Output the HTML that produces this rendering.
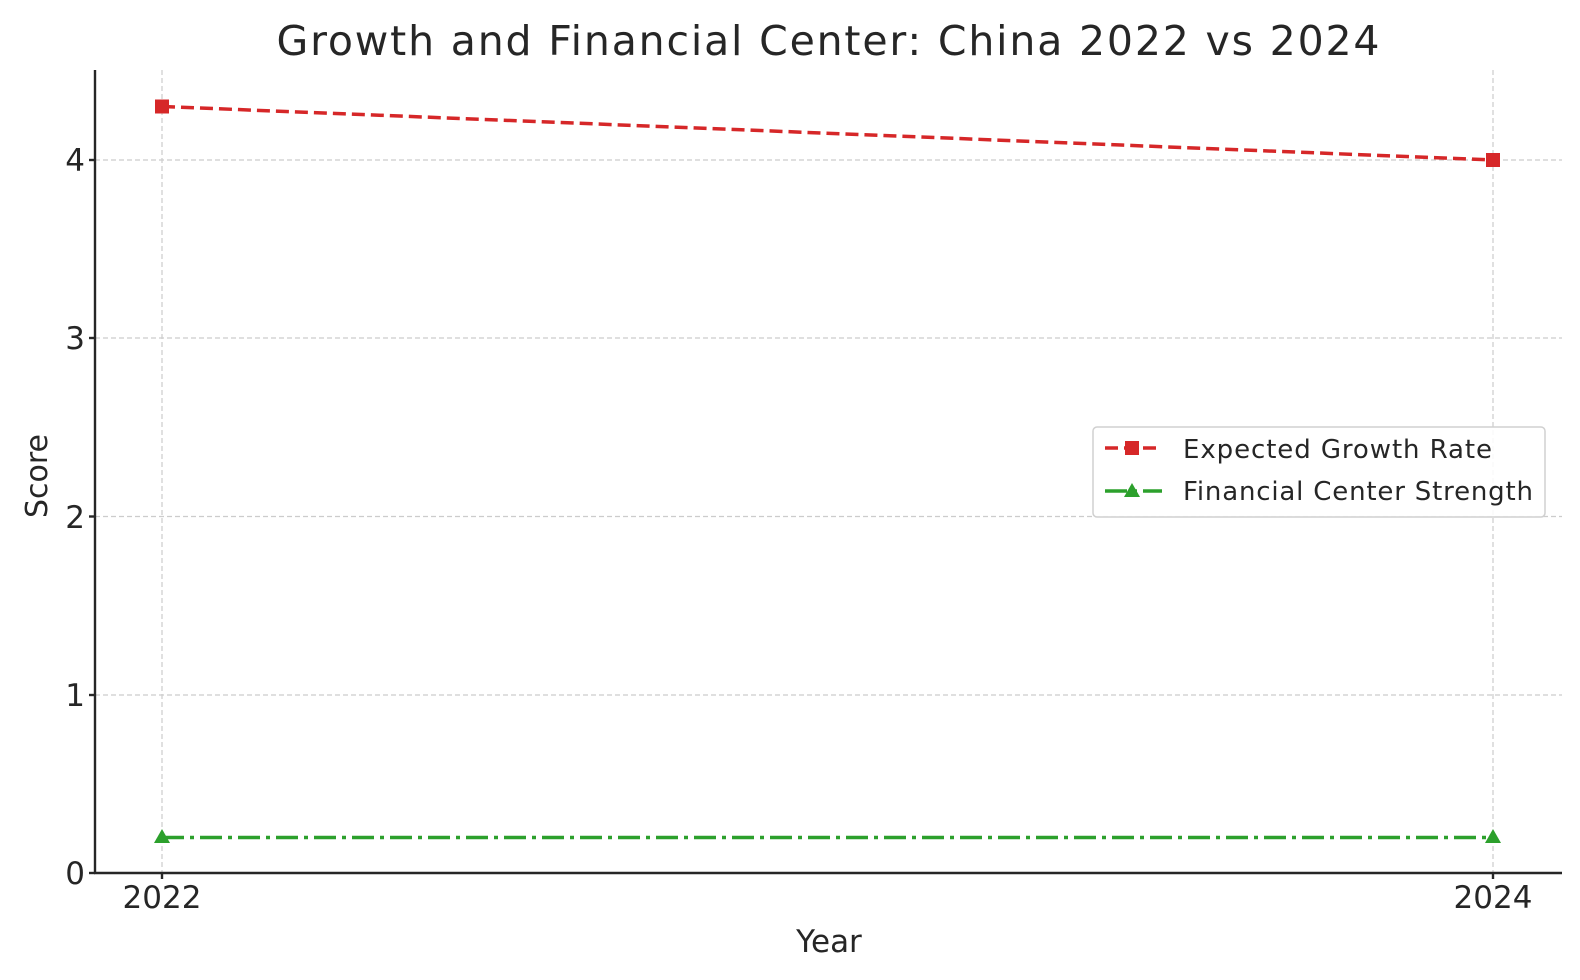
<!DOCTYPE html>
<html><head><meta charset="utf-8"><style>body{margin:0;background:#fff}svg{display:block}text{font-family:"DejaVu Sans","Liberation Sans",sans-serif;fill:#262626}</style></head>
<body>
<svg width="1580" height="980" viewBox="0 0 1580 980" xmlns="http://www.w3.org/2000/svg">
<rect width="1580" height="980" fill="#fff"/>
<g stroke="#cccccc" stroke-width="1.2" stroke-dasharray="5,3">
<line x1="95" y1="160" x2="1562" y2="160"/>
<line x1="95" y1="338" x2="1562" y2="338"/>
<line x1="95" y1="516.5" x2="1562" y2="516.5"/>
<line x1="95" y1="695" x2="1562" y2="695"/>
<line x1="162" y1="70" x2="162" y2="873"/>
<line x1="1493" y1="70" x2="1493" y2="873"/>
</g>
<g stroke="#262626" stroke-width="2.4">
<line x1="95" y1="70" x2="95" y2="874"/>
<line x1="94" y1="873" x2="1562" y2="873"/>
<line x1="89" y1="160" x2="95" y2="160"/><line x1="89" y1="338" x2="95" y2="338"/><line x1="89" y1="516.5" x2="95" y2="516.5"/><line x1="89" y1="695" x2="95" y2="695"/><line x1="89" y1="873" x2="95" y2="873"/>
<line x1="162" y1="873" x2="162" y2="879"/><line x1="1493" y1="873" x2="1493" y2="879"/>
</g>
<line x1="162" y1="106.5" x2="1493" y2="160" stroke="#d62728" stroke-width="3.5" stroke-dasharray="13,6"/>
<rect x="155" y="99.5" width="14" height="14" fill="#d62728"/>
<rect x="1486" y="153" width="14" height="14" fill="#d62728"/>
<line x1="162" y1="837.5" x2="1493" y2="837.5" stroke="#2ca02c" stroke-width="3.5" stroke-dasharray="22,6,4,6"/>
<polygon points="162,829 154,843 170,843" fill="#2ca02c"/>
<polygon points="1493,829 1485,843 1501,843" fill="#2ca02c"/>
<text x="828" y="55" font-size="41" text-anchor="middle" textLength="1103" fill="#333">Growth and Financial Center: China 2022 vs 2024</text>
<g font-size="31" text-anchor="end">
<text x="85" y="171">4</text><text x="85" y="349">3</text><text x="85" y="528">2</text><text x="85" y="706">1</text><text x="85" y="884">0</text>
</g>
<g font-size="31" text-anchor="middle">
<text x="162" y="908">2022</text><text x="1493" y="908">2024</text>
<text x="829" y="952">Year</text>
</g>
<text transform="translate(47,476) rotate(-90)" font-size="30" text-anchor="middle">Score</text>
<rect x="1093" y="427" width="452" height="90" rx="4" fill="#fff" fill-opacity="0.85" stroke="#d0d0d0" stroke-width="1.5"/>
<line x1="1105" y1="448" x2="1162" y2="448" stroke="#d62728" stroke-width="3.5" stroke-dasharray="13,6"/>
<rect x="1125" y="441" width="14" height="14" fill="#d62728"/>
<line x1="1105" y1="491" x2="1162" y2="491" stroke="#2ca02c" stroke-width="3.5" stroke-dasharray="22,6,4,6"/>
<polygon points="1132,483 1124,497 1140,497" fill="#2ca02c"/>
<g font-size="26" fill="#333">
<text x="1183" y="458" textLength="309">Expected Growth Rate</text>
<text x="1183" y="500" textLength="350">Financial Center Strength</text>
</g>
</svg>
</body></html>
